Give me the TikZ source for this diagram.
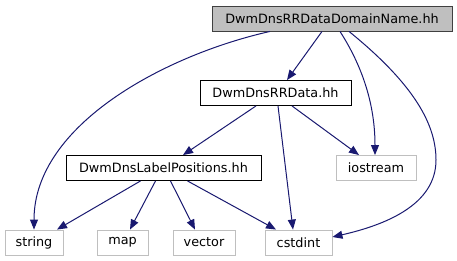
\documentclass[tikz,border=0pt]{standalone}
\usepackage{fontspec}
\setmainfont{DejaVu Sans}
\usetikzlibrary{arrows.meta}
\definecolor{edgec}{HTML}{191970}
\definecolor{grayb}{HTML}{BFBFBF}
\tikzset{
  box/.style={draw=black, line width=0.9pt, fill=white, minimum height=25pt, inner sep=0pt, font=\fontsize{12.8}{15}\selectfont},
  topbox/.style={box, fill=grayb, draw=black!75},
  sysbox/.style={box, draw=grayb},
  edge/.style={draw=edgec, line width=1pt, -{Triangle[length=10pt,width=8pt]}},
}
\begin{document}
\begin{tikzpicture}[x=1pt,y=-1pt]
\useasboundingbox (0,0) rectangle (457,261);
\node[topbox, minimum width=240pt] (top) at (332,18.5) {DwmDnsRRDataDomainName.hh};
\node[box, minimum width=151pt] (rr) at (275.5,93) {DwmDnsRRData.hh};
\node[box, minimum width=195pt] (lp) at (163.5,168) {DwmDnsLabelPositions.hh};
\node[sysbox, minimum width=80pt] (io) at (376,168) {iostream};
\node[sysbox, minimum width=58pt] (str) at (34,242.5) {string};
\node[sysbox, minimum width=51pt] (map) at (122.5,242.5) {map};
\node[sysbox, minimum width=62pt] (vec) at (204,242.5) {vector};
\node[sysbox, minimum width=67pt] (cst) at (298.5,242.5) {cstdint};

\draw[edge] ([xshift=-62pt]top.south) .. controls (165,55) and (34,125) .. (str.north);
\draw[edge] ([xshift=-10pt]top.south) -- ([xshift=11.5pt]rr.north);
\draw[edge] ([xshift=8pt]top.south) .. controls (368,75) and (375,115) .. ([xshift=-1pt]io.north);
\draw[edge] ([xshift=17pt]top.south) .. controls (415,85) and (436,125) .. (436,160) .. controls (436,205) and (385,225) .. ([yshift=5.5pt]cst.east);
\draw[edge] ([xshift=-19.5pt]rr.south) -- ([xshift=19.5pt]lp.north);
\draw[edge] ([xshift=2.5pt]rr.south) -- ([xshift=-5.5pt]cst.north);
\draw[edge] ([xshift=16.5pt]rr.south) -- ([xshift=-17pt]io.north);
\draw[edge] ([xshift=-23pt]lp.south) -- ([xshift=23pt]str.north);
\draw[edge] ([xshift=-8pt]lp.south) -- ([xshift=7.5pt]map.north);
\draw[edge] ([xshift=7pt]lp.south) -- ([xshift=-9pt]vec.north);
\draw[edge] ([xshift=24pt]lp.south) -- ([xshift=-22.5pt]cst.north);
\end{tikzpicture}
\end{document}
